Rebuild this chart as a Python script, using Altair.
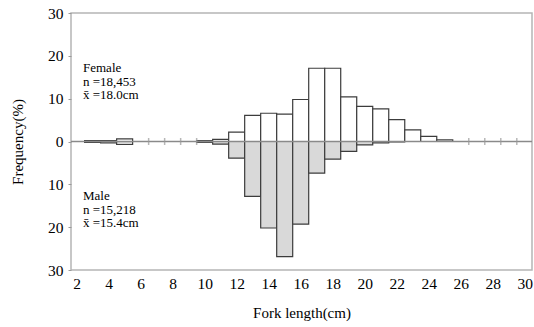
import altair as alt
import pandas as pd

# Fork-length classes (cm) and frequencies (%)
bins = list(range(3, 30))
female = [0.2, 0.2, 0.6, 0, 0, 0, 0, 0.2, 0.5, 2.2, 6.1, 6.6, 6.4, 9.8, 17.1, 17.1,
          10.4, 8.2, 7.6, 5.1, 2.7, 1.2, 0.4, 0, 0, 0, 0]
male = [0.2, 0.3, 0.7, 0, 0, 0, 0, 0.2, 0.6, 3.9, 12.8, 20.2, 26.9, 19.3, 7.4, 4.1,
        2.3, 0.8, 0.3, 0.1, 0, 0, 0, 0, 0, 0, 0]
x_ticks = list(range(2, 31, 2))
y_ticks = [-30, -20, -10, 0, 10, 20, 30]
female_note = ["Female", "n =18,453", "x\u0304 =18.0cm"]
male_note = ["Male", "n =15,218", "x\u0304 =15.4cm"]

FONT = "Times New Roman, Liberation Serif, DejaVu Serif, serif"

df = pd.DataFrame({"bin": bins, "female": female, "male": male})
df["lo"] = df["bin"] - 0.5
df["hi"] = df["bin"] + 0.5
df["m_neg"] = -df["male"]
df["empty"] = (df["female"] == 0) & (df["male"] == 0)

xscale = alt.Scale(domain=[1.65, 30.45], nice=False, zero=False)
yscale = alt.Scale(domain=[-30, 30], nice=False)

base = alt.Chart(df)

xaxis = alt.Axis(values=x_ticks, title="Fork length(cm)", ticks=False,
                 labelPadding=6, titlePadding=14)
yaxis = alt.Axis(values=y_ticks, title="Frequency(%)", tickSize=3,
                 labelPadding=5, titlePadding=22, labelExpr="abs(datum.value)")

male_bars = base.transform_filter("datum.male > 0").mark_bar(
    fill="#d9d9d9", stroke="#3c3c3c", strokeWidth=1.2
).encode(
    x=alt.X("lo:Q", scale=xscale, axis=xaxis),
    x2="hi:Q",
    y=alt.Y("m_neg:Q", scale=yscale, axis=yaxis),
    y2=alt.datum(0),
)

female_bars = base.transform_filter("datum.female > 0").mark_bar(
    fill="white", stroke="#3c3c3c", strokeWidth=1.2
).encode(
    x=alt.X("lo:Q", scale=xscale, axis=xaxis),
    x2="hi:Q",
    y=alt.Y("female:Q", scale=yscale, axis=yaxis),
    y2=alt.datum(0),
)

zero = alt.Chart(pd.DataFrame({"z": [0]})).mark_rule(
    color="#8a8a8a", strokeWidth=1.5
).encode(y=alt.Y("z:Q", scale=yscale, axis=yaxis))

edge_ticks = base.transform_filter("datum.empty").mark_tick(
    orient="vertical", size=7, color="#999999", thickness=1.5
).encode(
    x=alt.X("hi:Q", scale=xscale, axis=xaxis),
    y=alt.Y("female:Q", scale=yscale, axis=yaxis),
)

note_f = alt.Chart(pd.DataFrame({"t": [female_note]})).mark_text(
    align="left", baseline="top", font=FONT, fontSize=13, lineHeight=13.5, color="black"
).encode(x=alt.value(12), y=alt.value(49), text="t")

note_m = alt.Chart(pd.DataFrame({"t": [male_note]})).mark_text(
    align="left", baseline="top", font=FONT, fontSize=13, lineHeight=13.5, color="black"
).encode(x=alt.value(12), y=alt.value(177), text="t")

chart = alt.layer(male_bars, female_bars, zero, edge_ticks, note_f, note_m).properties(
    width=461, height=257,
    autosize=alt.AutoSizeParams(type="none"),
    padding={"left": 71, "top": 13, "right": 2, "bottom": 57},
).configure(
    background="white", font=FONT
).configure_view(
    stroke="#b5b5b5", strokeWidth=1.5
).configure_axis(
    grid=False, domain=False, labelOverlap=False, labelFlush=False,
    labelFont=FONT, titleFont=FONT, labelFontSize=15.5, titleFontSize=15,
    labelColor="black", titleColor="black", titleFontWeight="normal",
    tickColor="#999999",
)

chart.save("out.html", embed_options={"renderer": "svg", "actions": False})
